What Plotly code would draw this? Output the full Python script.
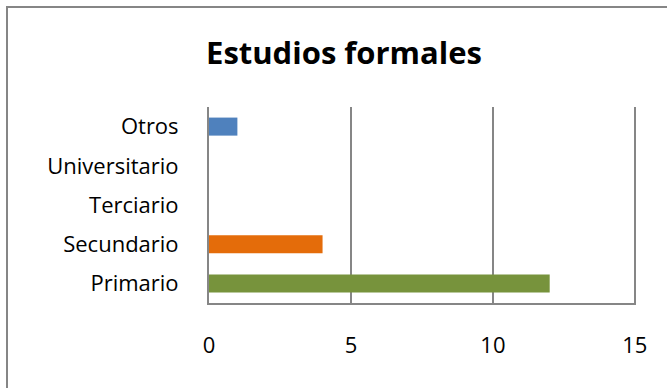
import plotly.graph_objects as go

categories = ["Primario", "Secundario", "Terciario", "Universitario", "Otros"]
values = [12, 4, 0, 0, 1]
colors = ["#77933C", "#E46C0A", "#C0504D", "#8064A2", "#4F81BD"]
x_ticks = [0, 5, 10, 15]

W, H = 667, 388
L, R, T, B = 209, 31, 107, 85
pw, ph = W - L - R, H - T - B

fig = go.Figure(go.Bar(
    y=categories, x=values, orientation="h",
    marker=dict(color=colors, line=dict(width=0)),
    width=0.46,
))

def px_to_paper_x(p):
    return (p - L) / pw

def px_to_paper_y(p):
    return (H - B - p) / ph

fig.update_layout(
    width=W, height=H,
    margin=dict(l=L, r=R, t=T, b=B),
    paper_bgcolor="white", plot_bgcolor="white",
    showlegend=False,
    font=dict(family="Open Sans", color="black"),
    title=dict(text="<b>Estudios formales</b>", x=344 / W, xanchor="center",
               y=1 - 53 / H, yanchor="middle",
               font=dict(family="Open Sans", size=31, color="black")),
    xaxis=dict(range=[0, 15.04], tickvals=x_ticks, showgrid=True,
               gridcolor="#868686", gridwidth=2, zeroline=False,
               showline=True, linecolor="#868686", linewidth=2,
               ticks="", tickfont=dict(size=22), ticklabelstandoff=22,
               mirror=False, fixedrange=True),
    yaxis=dict(categoryorder="array", categoryarray=categories,
               showgrid=False, zeroline=False, showline=True,
               linecolor="#868686", linewidth=2, ticks="",
               tickfont=dict(size=22), ticklabelstandoff=24, fixedrange=True),
    shapes=[dict(type="rect", xref="paper", yref="paper",
                 x0=px_to_paper_x(7), x1=px_to_paper_x(700),
                 y0=px_to_paper_y(420), y1=px_to_paper_y(7),
                 line=dict(color="#868686", width=2), fillcolor="rgba(0,0,0,0)",
                 layer="below")],
)

fig.write_html("out.html")
